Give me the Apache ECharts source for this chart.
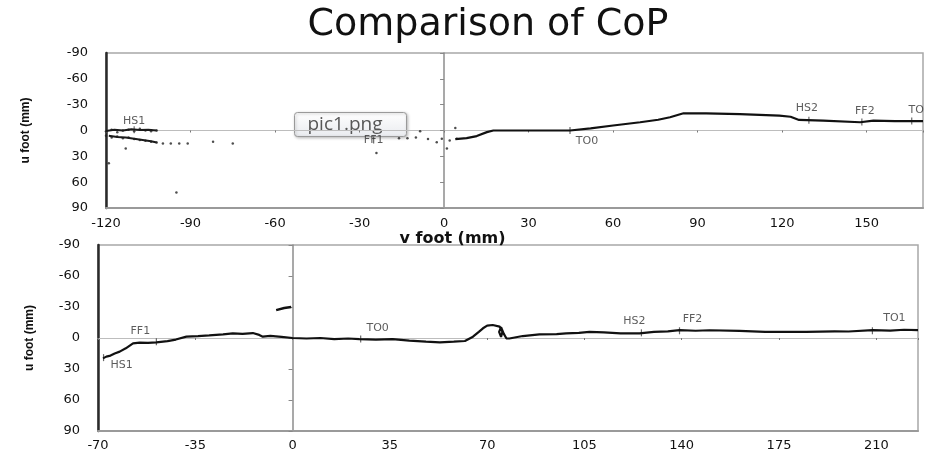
<!DOCTYPE html>
<html>
<head>
<meta charset="utf-8">
<title>Comparison of CoP</title>
<script src="https://cdn.jsdelivr.net/npm/echarts@6.0.0/dist/echarts.min.js"></script>
<style>
html, body { margin: 0; padding: 0; background: #fff; }
#main { width: 925px; height: 452px; }
</style>
</head>
<body>
<div id="main"></div>
<script>
// top panel: scattered CoP dots before contact, then the trace
var topDotV = [-120, -118, -116, -114, -112, -110, -108, -106, -104, -102,
	-120, -118, -116, -114, -112, -110, -108, -106, -104, -102,
	-119, -113, -99.8, -97, -94, -91, -82, -75, -95,
	-24, -16, -13, -10, -8.5, -5.7, -2.6, -0.8, 2, 4, 4.5, 1];
var topDotU = [1, -1, 2, 0, -1, 1, -2, 0, 1, 0,
	6, 8, 7, 9, 8, 10, 11, 12, 13, 14,
	38, 21, 15, 15, 15, 15, 13, 15, 72,
	26, 9, 9, 8, 1, 10, 13.5, 9.6, 11.5, -3, 9.6, 21];
// dense strokes of the heel-strike cluster
var topClusterAV = [-120, -117, -114, -111, -108, -105, -102];
var topClusterAU = [0.5, -1, 0, -1.5, -0.5, -1, 0];
var topClusterBV = [-119, -116, -113, -110, -107, -104, -102];
var topClusterBU = [6, 7.5, 8, 9.5, 11, 12.5, 14];
var topLineV = [4, 8, 11.6, 15.2, 17.5, 30, 44.7, 52, 60, 69.6, 76, 80.2, 85, 93, 105, 119, 123, 126, 134.6, 147.7, 152.4, 160, 170];
var topLineU = [10, 8.8, 6.5, 1.9, 0, 0, 0, -2.5, -5.8, -9.6, -12.5, -15.4, -20, -20, -19, -17.3, -16, -12.3, -11.5, -9.6, -11.5, -11, -10.8];
var topEventNames = ['HS1', 'FF1', 'TO0', 'HS2', 'FF2', 'TO1'];
var topEventV = [-110, -25, 44.7, 129.5, 148.3, 166];
var topEventU = [-1, 11, 0, -12, -10, -11];

// bottom panel
var botLineV = [-68.2, -67, -65.5, -64, -62.2, -60, -57.4, -55, -52, -49, -45, -42, -38.2, -34, -30, -25, -21.5, -18, -14.3, -12, -10.7, -8, -4, 0,
	5, 10, 15, 20, 24, 30, 36, 42, 48, 53, 58, 62, 64.9, 67, 68.5, 70, 72, 74.5, 75.5, 75, 74.3, 75, 76, 76.9, 78, 82.8, 88.8,
	95, 98.4, 103, 106.8, 112, 118, 124.8, 130, 135, 139.2, 145, 150, 160.8, 170, 184.8, 195, 200, 208.7, 215, 220, 225];
var botLineU = [19.7, 18, 17, 15, 13.2, 10, 5.2, 4.5, 4.8, 4.2, 3, 1.5, -1.3, -1.8, -2.5, -3.5, -4.5, -4, -4.8, -3, -1.3, -2, -1, 0,
	0.5, 0, 1, 0.5, 1, 1.5, 1, 2.5, 3.5, 4.2, 3.5, 2.9, -1.3, -6, -9.4, -12, -12.6, -11, -6, -1, -6, -10.5, -4, 0.3, 0.5, -1.9, -3.5,
	-3.8, -4.5, -5, -6, -5.5, -4.5, -4.5, -6, -6.5, -7.7, -7, -7.5, -6.8, -6, -6, -6.5, -6.3, -7.7, -7.2, -8, -7.7];
var botBlipV = [-5.9, -3, -0.5];
var botBlipU = [-27, -29, -30];
var botEventNames = ['HS1', 'FF1', 'TO0', 'HS2', 'FF2', 'TO1'];
var botEventV = [-68, -49, 24.5, 125.5, 139.2, 208.6];
var botEventU = [19, 3.6, 1, -5, -7, -7];

// tick labels
var uTicks = [-90, -60, -30, 0, 30, 60, 90];
var topVTicks = [-120, -90, -60, -30, 0, 30, 60, 90, 120, 150];
var botVTicks = [-70, -35, 0, 35, 70, 105, 140, 175, 210];

// where each event label sits next to its mark
var topLabelPos = [['top', 0, 3], ['inside', 0, 0], ['bottom', 17, 0], ['top', -2, -1], ['top', 3, 0], ['top', 8, 0]];
var botLabelPos = [['bottom', 18, -3], ['top', -16, 0], ['top', 17, 0], ['top', -7, -1], ['top', 13, -1], ['top', 22, -2]];

function pairs(xs, ys) {
	var out = [];
	for (var i = 0; i < xs.length; i++) {
		out.push([xs[i], ys[i]]);
	}
	return out;
}

function eventData(names, xs, ys, pos) {
	var out = [];
	for (var i = 0; i < names.length; i++) {
		out.push({
			name: names[i],
			value: [xs[i], ys[i]],
			label: { position: pos[i][0], offset: [pos[i][1], pos[i][2]] }
		});
	}
	return out;
}

var tickFont = { color: '#111', fontFamily: 'DejaVu Sans', fontSize: 13 };

function mainX(grid, ticks, margin) {
	return {
		gridIndex: grid,
		type: 'value',
		min: ticks[0],
		max: grid === 0 ? 170 : 225,
		interval: ticks[1] - ticks[0],
		position: 'bottom',
		axisLine: { onZero: false, lineStyle: { color: '#9a9a9a', width: 2 } },
		axisTick: { show: false },
		splitLine: { show: false },
		axisLabel: {
			margin: margin,
			showMaxLabel: false,
			color: tickFont.color, fontFamily: tickFont.fontFamily, fontSize: tickFont.fontSize,
			formatter: function (v) { return String(v); }
		}
	};
}

function zeroX(grid, ticks) {
	return {
		gridIndex: grid,
		type: 'value',
		min: ticks[0],
		max: grid === 0 ? 170 : 225,
		interval: ticks[1] - ticks[0],
		position: 'bottom',
		axisLine: { onZero: true, lineStyle: { color: '#bdbdbd', width: 1 } },
		axisTick: { show: true, length: 2, lineStyle: { color: '#777' } },
		axisLabel: { show: false },
		splitLine: { show: false }
	};
}

function mainY(grid, nameGap) {
	return {
		gridIndex: grid,
		type: 'value',
		inverse: true,
		min: uTicks[0],
		max: uTicks[uTicks.length - 1],
		interval: uTicks[1] - uTicks[0],
		position: 'left',
		name: 'u foot (mm)',
		nameLocation: 'middle',
		nameGap: nameGap,
		nameTextStyle: { color: '#111', fontFamily: 'Liberation Sans', fontWeight: 'bold', fontSize: 12 },
		axisLine: { onZero: false, lineStyle: { color: '#2a2a2a', width: 2.5 } },
		axisTick: { show: false },
		splitLine: { show: false },
		axisLabel: { margin: 18, color: tickFont.color, fontFamily: tickFont.fontFamily, fontSize: tickFont.fontSize }
	};
}

function zeroY(grid) {
	return {
		gridIndex: grid,
		type: 'value',
		inverse: true,
		min: uTicks[0],
		max: uTicks[uTicks.length - 1],
		interval: uTicks[1] - uTicks[0],
		position: 'left',
		axisLine: { onZero: true, lineStyle: { color: '#8c8c8c', width: 1.5 } },
		axisTick: { show: true, length: 4, lineStyle: { color: '#888' } },
		axisLabel: { show: false },
		splitLine: { show: false }
	};
}

var topX = mainX(0, topVTicks, 9);
topX.name = 'v foot (mm)';
topX.nameLocation = 'middle';
topX.nameGap = 22;
topX.nameTextStyle = { color: '#111', fontFamily: 'DejaVu Sans', fontWeight: 'bold', fontSize: 16, padding: [0, 124, 0, 0] };

var eventLabel = { show: true, formatter: '{b}', color: '#333', fontFamily: 'DejaVu Sans', fontSize: 11, distance: 2 };

function strokeSeries(xs, ys) {
	return {
		type: 'line',
		xAxisIndex: 0, yAxisIndex: 0,
		showSymbol: false,
		lineStyle: { color: '#1a1a1a', width: 2 },
		data: pairs(xs, ys)
	};
}

var chart = echarts.init(document.getElementById('main'));
var option = {
	animation: false,
	backgroundColor: '#fff',
	title: {
		text: 'Comparison of CoP',
		left: 483,
		textAlign: 'center',
		top: 1,
		textStyle: { color: '#111', fontFamily: 'DejaVu Sans', fontWeight: 'normal', fontSize: 38 }
	},
	grid: [
		{ left: 106, right: 2, top: 53, height: 155, show: true, borderColor: '#a8a8a8', borderWidth: 1.5, outerBoundsMode: 'none' },
		{ left: 98, right: 7, top: 245, height: 186, show: true, borderColor: '#a8a8a8', borderWidth: 1.5, outerBoundsMode: 'none' }
	],
	xAxis: [topX, zeroX(0, topVTicks), mainX(1, botVTicks, 8), zeroX(1, botVTicks)],
	yAxis: [mainY(0, 74), zeroY(0), mainY(1, 62), zeroY(1)],
	series: [{
		type: 'scatter',
		xAxisIndex: 0, yAxisIndex: 0,
		symbolSize: 2.5,
		itemStyle: { color: '#222' },
		data: pairs(topDotV, topDotU)
	},
	strokeSeries(topClusterAV, topClusterAU),
	strokeSeries(topClusterBV, topClusterBU),
	{
		type: 'line',
		xAxisIndex: 0, yAxisIndex: 0,
		showSymbol: false,
		lineStyle: { color: '#111', width: 2.2 },
		data: pairs(topLineV, topLineU)
	}, {
		type: 'scatter',
		xAxisIndex: 0, yAxisIndex: 0,
		symbol: 'rect',
		symbolSize: [1.2, 7],
		itemStyle: { color: '#444' },
		label: eventLabel,
		data: eventData(topEventNames, topEventV, topEventU, topLabelPos)
	}, {
		type: 'line',
		xAxisIndex: 2, yAxisIndex: 2,
		showSymbol: false,
		lineStyle: { color: '#111', width: 2.2 },
		data: pairs(botLineV, botLineU)
	}, {
		type: 'line',
		xAxisIndex: 2, yAxisIndex: 2,
		showSymbol: false,
		lineStyle: { color: '#111', width: 2.5 },
		data: pairs(botBlipV, botBlipU)
	}, {
		type: 'scatter',
		xAxisIndex: 2, yAxisIndex: 2,
		symbol: 'rect',
		symbolSize: [1.2, 7],
		itemStyle: { color: '#444' },
		label: eventLabel,
		data: eventData(botEventNames, botEventV, botEventU, botLabelPos)
	}],
	// the file-name hover box that was captured with the picture
	graphic: [{
		type: 'group',
		left: 294,
		top: 112,
		children: [{
			type: 'rect',
			shape: { x: 0, y: 0, width: 112, height: 24, r: 3 },
			style: {
				fill: new echarts.graphic.LinearGradient(0, 0, 0, 1, [
					{ offset: 0, color: '#ffffff' },
					{ offset: 1, color: '#e9ebef' }
				]),
				stroke: '#9a9a9a',
				lineWidth: 1,
				shadowBlur: 3,
				shadowOffsetX: 1,
				shadowOffsetY: 1,
				shadowColor: 'rgba(0,0,0,0.25)'
			}
		}, {
			type: 'text',
			x: 13,
			y: 12,
			style: {
				text: 'pic1.png',
				fill: '#575757',
				font: '19px "Open Sans"',
				verticalAlign: 'middle'
			}
		}]
	}]
};
chart.setOption(option);
</script>
</body>
</html>
